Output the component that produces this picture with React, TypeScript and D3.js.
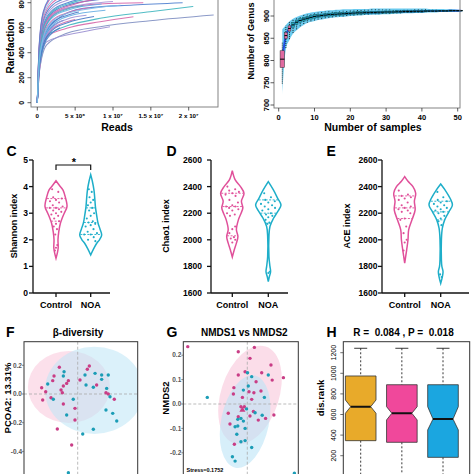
import React from 'react';
import * as d3 from 'd3';

const FONT = "'Liberation Sans', Arial, Helvetica, sans-serif";

// ---------------- Panel A: rarefaction ----------------
const rareTicksX = [0, 5, 10, 15, 20];
const rareTickLabelsX = ['0', '5 x 10⁶', '1 x 10⁷', '1.5 x 10⁷', '2 x 10⁷'];
const rareTicksY = [0, 200, 400, 600, 800];
// reads (millions), richness
const rareCurves: { c: string; p: number[][] }[] = [
  { c: '#7f8fc2', p: [[0, 0], [0.3, 262], [1.24, 462], [3.9, 555], [8.3, 608], [14.9, 656], [23.3, 702]] },
  { c: '#9a8fd2', p: [[0, 0], [0.3, 260], [1.25, 488], [6.1, 568], [9.6, 608]] },
  { c: '#d567a8', p: [[0, 0], [0.3, 280], [1.25, 528], [3.9, 595], [8.3, 648], [12.7, 688]] },
  { c: '#3fb6bf', p: [[0, 0], [0.3, 300], [1.7, 555], [8.3, 675], [14.9, 728], [20.6, 770]] },
  { c: '#4f80cf', p: [[0, 0], [0.3, 330], [1, 540], [2.5, 660], [6.1, 755], [12.7, 782], [19.2, 800]] },
  { c: '#d462a8', p: [[0, 0], [0.3, 380], [1, 600], [2.5, 720], [5, 770], [8.3, 790], [14, 800]] },
  { c: '#4a78c8', p: [[0, 0], [0.25, 330], [0.8, 520], [2, 640], [4, 700], [5.5, 725]] },
  { c: '#d466aa', p: [[0, 0], [0.25, 340], [0.8, 540], [2, 660], [4, 720], [7, 760]] },
  { c: '#6aaee4', p: [[0, 0], [0.25, 360], [0.8, 560], [2, 680], [4, 740], [8.5, 790]] },
  { c: '#a893d8', p: [[0, 0], [0.25, 350], [0.8, 570], [2, 700], [4, 760], [10, 810]] },
  { c: '#4d7dcc', p: [[0, 0], [0.25, 380], [0.8, 600], [2, 720], [4, 780], [9, 830]] },
  { c: '#d061a6', p: [[0, 0], [0.25, 370], [0.8, 590], [2, 710], [5, 790], [11, 850]] },
  { c: '#4f7fd2', p: [[0, 0], [0.25, 400], [0.8, 620], [2, 740], [4, 800], [7, 840]] },
  { c: '#46b3c4', p: [[0, 0], [0.25, 390], [0.8, 610], [2, 730], [4, 790], [12, 870]] },
  { c: '#a38fd4', p: [[0, 0], [0.25, 410], [0.8, 640], [2, 760], [4, 820], [8, 870]] },
  { c: '#4a7ccb', p: [[0, 0], [0.25, 420], [0.8, 660], [2, 780], [4, 840], [6, 870]] },
  { c: '#d868ab', p: [[0, 0], [0.25, 430], [0.8, 680], [2, 800], [4, 860], [9, 910]] },
  { c: '#8cc4ea', p: [[0, 0], [0.25, 440], [0.8, 700], [2, 820], [4, 880], [12, 950]] },
  { c: '#4f82d0', p: [[0, 0], [0.25, 320], [0.8, 500], [2, 610], [3.5, 660]] },
  { c: '#cf6aa8', p: [[0, 0], [0.25, 300], [0.8, 480], [2, 590], [4, 650], [5, 665]] },
  { c: '#9d92d6', p: [[0, 0], [0.25, 310], [0.8, 490], [2, 600], [4, 670], [6.5, 700]] },
  { c: '#4978c6', p: [[0, 0], [0.25, 290], [0.8, 470], [2, 580], [4, 640], [7.5, 690]] },
  { c: '#67aee2', p: [[0, 0], [0.25, 300], [0.8, 500], [2, 620], [4, 690], [9, 740]] },
  { c: '#4c7ccb', p: [[0, 0], [0.25, 280], [0.8, 450], [2, 560], [3, 600]] },
  { c: '#d35fa6', p: [[0, 0], [0.25, 450], [0.8, 720], [2, 850], [4, 910], [7, 950]] },
  { c: '#5584d2', p: [[0, 0], [0.25, 460], [0.8, 730], [2, 860], [5, 930], [10, 980]] },
  { c: '#43b1c2', p: [[0, 0], [0.25, 350], [0.8, 560], [2, 690], [4, 750], [6, 775]] },
  { c: '#7fbbe8', p: [[0, 0], [0.25, 320], [0.8, 520], [2, 650], [4, 715], [11, 780]] },
];

// ---------------- Panel B: genus accumulation ----------------
const accTicksX = [0, 10, 20, 30, 40, 50];
const accTicksY = [700, 750, 800, 850, 900];
const accMed = [803, 856, 872, 880, 886, 890, 893, 895, 897, 899, 900, 901, 902, 903, 903.5, 904, 904.5, 905, 905.5, 906, 906.5, 907, 907, 907.5, 907.5, 908, 908, 908.5, 908.5, 909, 909, 909, 909.5, 909.5, 910, 910, 910, 910.5, 910.5, 910.5, 911, 911, 911, 911, 911.5, 911.5, 911.5, 912, 912, 912, 912];
const accHalfBox = [18, 6, 5, 4.5, 4, 3.5, 3.5, 3, 3, 3, 3, 2.5, 2.5, 2.5, 2.5, 2.5, 2, 2, 2, 2, 2, 2, 2, 2, 1.5, 1.5, 1.5, 1.5, 1.5, 1.5, 1.5, 1.5, 1.5, 1, 1, 1, 1, 1, 1, 1, 1, 0.5, 0.5, 0.5, 0.5, 0.5, 0.5, 0.5, 0, 0, 0];
const accLo = [748, 828, 848, 862, 870, 877, 882, 885, 888, 890, 892, 893, 895, 896, 897, 898, 899, 899, 900, 901, 901, 902, 902, 903, 903, 904, 904, 904, 905, 905, 905, 906, 906, 906, 907, 907, 907, 908, 908, 908, 909, 909, 909, 909, 910, 910, 910, 911, 911, 911, 912];
const accHi = [840, 878, 886, 892, 896, 899, 902, 904, 906, 907, 908, 909, 910, 911, 911, 912, 912, 913, 913, 913, 914, 914, 914, 914, 914, 915, 915, 915, 915, 915, 915, 915, 915, 915, 915, 915, 915, 915, 915, 915, 915, 914, 914, 914, 914, 914, 913, 913, 913, 912, 912];
const accBandLo = [722, 825, 846, 860, 868, 875, 880, 884, 887, 889, 891, 892, 894, 895, 896, 897, 898, 898, 899, 900, 900, 901, 901, 902, 902, 903, 903, 903, 904, 904, 904, 905, 905, 905, 906, 906, 906, 907, 907, 907, 908, 908, 908, 908, 909, 909, 909, 910, 910, 910, 911];
const accBandHi = [870, 880, 888, 894, 898, 901, 904, 906, 908, 909, 910, 911, 912, 913, 913, 914, 914, 915, 915, 915, 916, 916, 916, 916, 916, 917, 917, 917, 917, 917, 917, 917, 917, 917, 917, 917, 917, 917, 917, 917, 917, 916, 916, 916, 916, 916, 915, 915, 915, 914, 913];

// ---------------- Panels C, D, E: violins ----------------
const groups = ['Control', 'NOA'];
const shannonTicks = [0, 1, 2, 3, 4, 5];
const chaoTicks = [1600, 1800, 2000, 2200, 2400, 2600];
const aceTicks = [1600, 1800, 2000, 2200, 2400, 2600];

const shannonCtrlDens = [[1.3, 0], [1.5, 0.12], [1.7, 0.2], [2.0, 0.18], [2.3, 0.25], [2.62, 0.4], [2.8, 0.55], [3.0, 0.75], [3.25, 1.0], [3.6, 0.85], [3.87, 0.64], [4.05, 0.3], [4.22, 0]];
const shannonNoaDens = [[1.43, 0], [1.65, 0.25], [1.87, 0.55], [2.0, 0.8], [2.18, 1.0], [2.4, 0.85], [2.62, 0.67], [2.9, 0.55], [3.24, 0.43], [3.5, 0.38], [3.86, 0.3], [4.2, 0.15], [4.45, 0]];
const shannonCtrlQ = [2.7, 3.2, 3.55];
const shannonNoaQ = [2.2, 2.65, 3.2];
const shannonCtrlPts = [3.9, 3.8, 3.6, 3.55, 3.5, 3.45, 3.4, 3.3, 3.25, 3.2, 3.2, 3.15, 3.1, 3.05, 3.0, 2.95, 2.9, 2.8, 2.7, 2.6, 2.5, 2.4, 2.2, 1.8, 1.7, 1.6];
const shannonNoaPts = [3.9, 3.8, 3.6, 3.5, 3.4, 3.3, 3.2, 3.1, 3.0, 2.9, 2.8, 2.7, 2.65, 2.6, 2.55, 2.5, 2.4, 2.3, 2.25, 2.2, 2.2, 2.1, 2.0, 1.95];

const chaoCtrlDens = [[1870, 0], [1925, 0.17], [1975, 0.35], [2025, 0.48], [2075, 0.35], [2150, 0.52], [2200, 0.75], [2240, 0.9], [2290, 0.78], [2350, 1.0], [2400, 0.7], [2450, 0.25], [2520, 0]];
const chaoNoaDens = [[1685, 0], [1722, 0.08], [1760, 0.18], [1800, 0.13], [1875, 0.05], [2025, 0.05], [2100, 0.13], [2160, 0.4], [2212, 0.74], [2262, 1.0], [2312, 0.74], [2375, 0.4], [2437, 0]];
const chaoCtrlQ = [2030, 2250, 2350];
const chaoNoaQ = [2125, 2200, 2300];
const chaoCtrlPts = [2400, 2380, 2370, 2360, 2350, 2340, 2330, 2300, 2280, 2260, 2250, 2250, 2240, 2230, 2220, 2200, 2190, 2180, 2100, 2080, 2050, 2020, 2010, 2000, 1980];
const chaoNoaPts = [2350, 2320, 2300, 2290, 2280, 2270, 2260, 2250, 2240, 2230, 2220, 2200, 2190, 2180, 2170, 2150, 2130, 2120, 1760, 1750];

const aceCtrlDens = [[1825, 0], [1925, 0.18], [2000, 0.3], [2075, 0.36], [2150, 0.66], [2225, 0.95], [2290, 0.88], [2350, 1.0], [2400, 0.75], [2440, 0.3], [2475, 0]];
const aceNoaDens = [[1672, 0], [1722, 0.14], [1760, 0.2], [1800, 0.1], [1850, 0.06], [2000, 0.06], [2087, 0.14], [2150, 0.34], [2212, 0.71], [2262, 1.0], [2312, 0.8], [2375, 0.37], [2420, 0]];
const aceCtrlQ = [2160, 2240, 2330];
const aceNoaQ = [2150, 2210, 2290];
const aceCtrlPts = [2370, 2340, 2330, 2320, 2310, 2300, 2280, 2260, 2250, 2240, 2230, 2220, 2210, 2200, 2160, 2150, 2100, 2050, 2000, 1980, 1920];
const aceNoaPts = [2360, 2320, 2300, 2290, 2280, 2270, 2260, 2250, 2240, 2230, 2220, 2210, 2200, 2180, 2160, 2140, 2110, 1740, 1720];

// ---------------- Panel F: PCoA ----------------
const fTicksY = [0.2, 0.0, -0.2, -0.4];
const fCtrl = [[-0.128, 0.186], [-0.165, 0.125], [-0.174, 0.093], [-0.065, 0.093], [-0.1, 0.056], [-0.251, 0.044], [-0.223, 0.016], [-0.116, 0.028], [-0.107, 0.009], [-0.244, -0.042], [-0.186, -0.026], [-0.1, -0.07], [-0.019, -0.1], [0.016, 0.098], [0.067, 0.172], [0.081, 0.195], [0.132, 0.063], [0.197, 0.009], [0.213, 0.0], [0.255, -0.037], [-0.019, -0.181], [-0.142, -0.244], [-0.042, -0.355], [-0.077, 0.074]];
const fNoa = [[-0.095, 0.155], [-0.1, 0.125], [-0.209, 0.07], [-0.17, -0.037], [-0.031, -0.037], [-0.077, -0.146], [0.035, -0.279], [0.109, -0.246], [0.051, 0.132], [0.121, 0.144], [0.167, 0.132], [0.167, 0.102], [0.213, 0.132], [0.058, 0.063], [0.109, 0.047], [0.202, 0.039], [0.225, -0.019], [0.197, -0.111], [0.244, -0.135], [0.272, -0.188], [-0.065, -0.548]];
const fEllCtrl = { cx: -0.061, cy: 0.049, rx: 0.286, ry: 0.251 };
const fEllNoa = { cx: 0.116, cy: 0.026, rx: 0.344, ry: 0.304 };

// ---------------- Panel G: NMDS ----------------
const gTicksY = [0.2, 0.1, 0.0, -0.1, -0.2];
const gCtrl = [[-0.244, 0.235], [-0.037, 0.214], [0.029, 0.232], [0.011, 0.187], [0.097, 0.16], [0.059, 0.128], [0.148, 0.108], [-0.037, 0.119], [-0.009, 0.132], [0.036, 0.091], [0.102, 0.098], [-0.055, 0.067], [-0.057, 0.041], [0.007, 0.05], [0.027, 0.046], [0.056, 0.053], [0.018, 0.019], [-0.02, 0.027], [-0.026, -0.011], [-0.012, -0.011], [0.025, -0.031], [-0.037, -0.052], [0.011, -0.049], [-0.078, -0.038], [-0.071, -0.082], [0.045, -0.066], [0.075, -0.059], [0.109, -0.045], [-0.053, -0.165]];
const gNoa = [[-0.164, 0.027], [0.001, 0.128], [0.018, 0.112], [0.004, 0.074], [-0.016, 0.057], [0.086, 0.119], [0.07, 0.027], [-0.003, -0.02], [0.032, -0.036], [0.061, -0.046], [-0.039, -0.063], [-0.026, -0.059], [-0.016, -0.07], [-0.039, -0.09], [-0.05, -0.093], [-0.009, -0.1], [-0.043, -0.124], [-0.026, -0.155], [-0.009, -0.15], [0.018, -0.178], [-0.061, -0.216], [-0.05, -0.234], [0.193, -0.284]];
const gCentroidCtrl = [-0.02, -0.025];
const gEllCtrl = { cx: 0.011, cy: 0.037, rx: 0.119, ry: 0.209, rot: 18 };
const gEllNoa = { cx: -0.009, cy: -0.072, rx: 0.098, ry: 0.193, rot: 12 };
const gStress = 'Stress=0.1752';

// ---------------- Panel H: ANOSIM boxes ----------------
const hTicksY = [200, 400, 600, 800, 1000, 1200];
const hGroups = [1, 2, 3];
const hColors = ['#E8AA2A', '#F0489B', '#1BA6E0'];
const hQ1 = [346, 330, 184];
const hQ3 = [974, 889, 889];
const hMed = [676, 612, 556];
const hNotchLo = [612, 547, 450];
const hNotchHi = [741, 676, 676];
const hWhiskHi = [1243, 1243, 1243];
const hWhiskLo = [0, 0, 0];

const PINK = '#E0509A';
const CYAN = '#1EAEC9';
const PT_PINK = '#C93D86';
const PT_BLUE = '#1B9DB6';

function densAt(dens: number[][], v: number): number {
  for (let i = 0; i < dens.length - 1; i++) {
    const [a, da] = dens[i];
    const [b, db] = dens[i + 1];
    if (v >= a && v <= b) return da + ((v - a) / (b - a)) * (db - da);
  }
  return 0;
}

function Violin({ cx, y, dens, maxW, color, q, pts }: any) {
  const w = d3.scaleLinear().domain([0, 1]).range([0, maxW]);
  const area = d3
    .area<number[]>()
    .curve(d3.curveCatmullRom)
    .y((d) => y(d[0]))
    .x0((d) => cx - w(d[1]))
    .x1((d) => cx + w(d[1]));
  return (
    <g>
      <path d={area(dens) || ''} fill="#fff" stroke={color} strokeWidth={1.5} />
      {q.map((v: number, i: number) => {
        const hw = w(densAt(dens, v)) * 0.95;
        return <line key={i} x1={cx - hw} x2={cx + hw} y1={y(v)} y2={y(v)} stroke={color} strokeWidth={0.9} strokeDasharray="2,1.5" />;
      })}
      {pts.map((v: number, i: number) => {
        const hw = w(densAt(dens, v)) * 0.6;
        const off = (((i * 3) % 5) - 2) / 2;
        return <circle key={i} cx={cx + off * hw} cy={y(v)} r={1.05} fill={color} />;
      })}
    </g>
  );
}

function ViolinPanel({ axisX, xEnd, cats, ticks, domain, label, letter, letterX, labelX, tickLabelX, ctrl, noa, maxW, fmt }: any) {
  const y = d3.scaleLinear().domain(domain).range([293, 160]);
  const x = d3.scalePoint<string>().domain(groups).range(cats);
  return (
    <g>
      <text x={letterX} y={155.5} fontSize={14} fontWeight="bold">{letter}</text>
      <line x1={axisX} x2={axisX} y1={160} y2={293} stroke="#111" strokeWidth={1.3} />
      <line x1={axisX} x2={xEnd} y1={293} y2={293} stroke="#111" strokeWidth={1.3} />
      {ticks.map((t: number) => (
        <g key={t}>
          <line x1={axisX - 4} x2={axisX} y1={y(t)} y2={y(t)} stroke="#111" strokeWidth={1.3} />
          <text x={tickLabelX} y={y(t) + 3} fontSize={8.5} fontWeight="bold" textAnchor="end">{fmt(t)}</text>
        </g>
      ))}
      {groups.map((g) => (
        <g key={g}>
          <line x1={x(g)} x2={x(g)} y1={293} y2={297} stroke="#111" strokeWidth={1.3} />
          <text x={x(g)} y={308} fontSize={9} fontWeight="bold" textAnchor="middle">{g}</text>
        </g>
      ))}
      <text transform={`translate(${labelX},226) rotate(-90)`} fontSize={9} fontWeight="bold" textAnchor="middle">{label}</text>
      <Violin cx={x('Control')} y={y} dens={ctrl.dens} maxW={maxW[0]} color={PINK} q={ctrl.q} pts={ctrl.pts} />
      <Violin cx={x('NOA')} y={y} dens={noa.dens} maxW={maxW[1]} color={CYAN} q={noa.q} pts={noa.pts} />
    </g>
  );
}

function PanelA() {
  const xA = d3.scaleLinear().domain([0, 20]).range([37.3, 188.7]);
  const yA = d3.scaleLinear().domain([0, 800]).range([102.7, 2.7]);
  const line = d3.line<number[]>().x((d) => xA(d[0])).y((d) => yA(d[1])).curve(d3.curveMonotoneX);
  return (
    <g>
      <defs>
        <clipPath id="clipA"><rect x={31} y={-20} width={187} height={127} /></clipPath>
      </defs>
      <g clipPath="url(#clipA)">
        {rareCurves.map((c, i) => (
          <path key={i} d={line(c.p) || ''} fill="none" stroke={c.c} strokeWidth={1.1} opacity={0.9} />
        ))}
      </g>
      <rect x={31} y={-20} width={187} height={127} fill="none" stroke="#777" strokeWidth={0.9} />
      {rareTicksY.map((t) => (
        <g key={t}>
          <line x1={27.5} x2={31} y1={yA(t)} y2={yA(t)} stroke="#333" strokeWidth={0.8} />
          <text transform={`translate(23.5,${yA(t)}) rotate(-90)`} fontSize={7} fontWeight="bold" textAnchor="middle">{t}</text>
        </g>
      ))}
      {rareTicksX.map((t, i) => (
        <g key={t}>
          <line x1={xA(t)} x2={xA(t)} y1={107} y2={110.5} stroke="#333" strokeWidth={0.8} />
          <text x={xA(t)} y={118} fontSize={6.2} fontWeight="bold" textAnchor="middle">{rareTickLabelsX[i]}</text>
        </g>
      ))}
      <text x={117} y={131} fontSize={10.5} fontWeight="bold" textAnchor="middle">Reads</text>
      <text transform="translate(13.5,46) rotate(-90)" fontSize={10} fontWeight="bold" textAnchor="middle">Rarefaction</text>
    </g>
  );
}

function PanelB() {
  const xB = d3.scaleLinear().domain([0, 50]).range([278.7, 457.7]);
  const yB = d3.scaleLinear().domain([700, 900]).range([105, 16]);
  const ns = accMed.map((_, i) => i + 1);
  const band = d3
    .area<number>()
    .x((n) => xB(n))
    .y0((n) => yB(accBandLo[n - 1]))
    .y1((n) => yB(accBandHi[n - 1]))
    .curve(d3.curveMonotoneX);
  const medLine = d3.line<number>().x((n) => xB(n)).y((n) => yB(accMed[n - 1])).curve(d3.curveMonotoneX);
  return (
    <g>
      <path d={band(ns) || ''} fill="#45BDEA" opacity={0.8} />
      <path d={medLine(ns) || ''} fill="none" stroke="#1F4FE0" strokeWidth={2} />
      {ns.map((n, i) => {
        const bw = i === 0 ? 2.2 : 1.4;
        const q1 = accMed[i] - accHalfBox[i];
        const q3 = accMed[i] + accHalfBox[i];
        const fill = i < 3 ? '#E06AA0' : '#2AA8B8';
        return (
          <g key={n}>
            <line x1={xB(n)} x2={xB(n)} y1={yB(accLo[i])} y2={yB(accHi[i])} stroke="#111" strokeWidth={0.9} strokeDasharray="1,1" />
            <rect x={xB(n) - bw} y={yB(q3) - 0.4} width={bw * 2} height={Math.max(0.8, yB(q1) - yB(q3) + 0.8)} fill={fill} stroke={i < 3 ? '#333' : '#0d5f6a'} strokeWidth={0.5} />
            <line x1={xB(n) - bw} x2={xB(n) + bw} y1={yB(accMed[i])} y2={yB(accMed[i])} stroke="#000" strokeWidth={1} />
          </g>
        );
      })}
      <rect x={274} y={-20} width={186} height={128} fill="none" stroke="#777" strokeWidth={0.9} />
      {accTicksY.map((t) => (
        <g key={t}>
          <line x1={270.5} x2={274} y1={yB(t)} y2={yB(t)} stroke="#333" strokeWidth={0.8} />
          <text transform={`translate(269,${yB(t)}) rotate(-90)`} fontSize={7.5} fontWeight="bold" textAnchor="middle">{t}</text>
        </g>
      ))}
      {accTicksX.map((t) => (
        <g key={t}>
          <line x1={xB(t)} x2={xB(t)} y1={108} y2={111.5} stroke="#333" strokeWidth={0.8} />
          <text x={xB(t)} y={119.5} fontSize={7.5} fontWeight="bold" textAnchor="middle">{t}</text>
        </g>
      ))}
      <text x={373} y={131} fontSize={10.5} fontWeight="bold" textAnchor="middle">Number of samples</text>
      <text transform="translate(253.5,41) rotate(-90)" fontSize={9.2} fontWeight="bold" textAnchor="middle">Number of Genus</text>
    </g>
  );
}

function Scatter({ id, x0, x1, xZero, unit, yZero, points, ellipses, letter, letterX, title, titleX, yLabel, yLabelX, ticks, tickFmt, extra }: any) {
  const xs = d3.scaleLinear().domain([0, 0.1]).range([xZero, xZero + unit]);
  const ys = d3.scaleLinear().domain([0, 0.1]).range([yZero, yZero - unit]);
  return (
    <g>
      <defs>
        <clipPath id={id}><rect x={x0} y={341.7} width={x1 - x0} height={150} /></clipPath>
      </defs>
      <text x={letterX} y={337} fontSize={14} fontWeight="bold">{letter}</text>
      <text x={titleX} y={336} fontSize={10} fontWeight="bold" textAnchor="middle">{title}</text>
      <g clipPath={`url(#${id})`}>
        {ellipses.map((e: any, i: number) => (
          <ellipse key={i} cx={xs(e.cx)} cy={ys(e.cy)} rx={xs(e.cx + e.rx) - xs(e.cx)} ry={ys(e.cy) - ys(e.cy + e.ry)} fill={e.fill} opacity={e.op} transform={e.rot ? `rotate(${e.rot},${xs(e.cx)},${ys(e.cy)})` : undefined} />
        ))}
        <line x1={x0} x2={x1} y1={ys(0)} y2={ys(0)} stroke="#aaa" strokeWidth={0.8} strokeDasharray="3,2" />
        <line x1={xs(0)} x2={xs(0)} y1={341.7} y2={490} stroke="#aaa" strokeWidth={0.8} strokeDasharray="3,2" />
        {points.map((p: any, i: number) => (
          <circle key={i} cx={xs(p[0])} cy={ys(p[1])} r={1.7} fill={p[2]} />
        ))}
        {extra ? extra(xs, ys) : null}
      </g>
      <rect x={x0} y={341.7} width={x1 - x0} height={150} fill="none" stroke="#333" strokeWidth={1} />
      {ticks.map((t: number) => (
        <g key={t}>
          <line x1={x0 - 2} x2={x0} y1={ys(t)} y2={ys(t)} stroke="#555" strokeWidth={0.7} />
          <text x={x0 - 2} y={ys(t) + 2.2} fontSize={6.5} fontWeight="bold" fill="#555" textAnchor="end">{tickFmt(t)}</text>
        </g>
      ))}
      <text transform={`translate(${yLabelX},398) rotate(-90)`} fontSize={9.5} fontWeight="bold" textAnchor="middle">{yLabel}</text>
    </g>
  );
}

function PanelH() {
  const yH = d3.scaleLinear().domain([200, 1200]).range([455.7, 352.7]);
  const xH = d3.scaleLinear().domain([1, 3]).range([360.7, 443]);
  const hw = 15.3;
  const nw = 10;
  return (
    <g>
      <text x={326.5} y={337} fontSize={14} fontWeight="bold">H</text>
      <text x={403.5} y={336} fontSize={10} fontWeight="bold" textAnchor="middle" style={{ whiteSpace: 'pre' }}>{'R =  0.084 , P =  0.018'}</text>
      <defs>
        <clipPath id="clipH"><rect x={343.3} y={341.7} width={126.4} height={150} /></clipPath>
      </defs>
      <g clipPath="url(#clipH)">
        {hGroups.map((g, i) => {
          const cx = xH(g);
          const d = [
            [cx - hw, yH(hQ3[i])], [cx + hw, yH(hQ3[i])], [cx + hw, yH(hNotchHi[i])], [cx + nw, yH(hMed[i])],
            [cx + hw, yH(hNotchLo[i])], [cx + hw, yH(hQ1[i])], [cx - hw, yH(hQ1[i])], [cx - hw, yH(hNotchLo[i])],
            [cx - nw, yH(hMed[i])], [cx - hw, yH(hNotchHi[i])],
          ];
          return (
            <g key={g}>
              <line x1={cx} x2={cx} y1={yH(hWhiskHi[i])} y2={yH(hQ3[i])} stroke="#222" strokeWidth={0.9} strokeDasharray="2,2" />
              <line x1={cx} x2={cx} y1={yH(hQ1[i])} y2={yH(hWhiskLo[i])} stroke="#222" strokeWidth={0.9} strokeDasharray="2,2" />
              <line x1={cx - 6.5} x2={cx + 6.5} y1={yH(hWhiskHi[i])} y2={yH(hWhiskHi[i])} stroke="#222" strokeWidth={0.9} />
              <path d={'M' + d.map((p) => p.join(',')).join('L') + 'Z'} fill={hColors[i]} stroke="#333" strokeWidth={0.8} />
              <line x1={cx - nw} x2={cx + nw} y1={yH(hMed[i])} y2={yH(hMed[i])} stroke="#111" strokeWidth={2} />
            </g>
          );
        })}
      </g>
      <rect x={343.3} y={341.7} width={126.4} height={150} fill="none" stroke="#333" strokeWidth={1} />
      {hTicksY.map((t) => (
        <g key={t}>
          <line x1={340.3} x2={343.3} y1={yH(t)} y2={yH(t)} stroke="#333" strokeWidth={0.7} />
          <text transform={`translate(335.5,${yH(t)}) rotate(-90)`} fontSize={7} textAnchor="middle">{t}</text>
        </g>
      ))}
      <text transform="translate(324,398) rotate(-90)" fontSize={9.5} fontWeight="bold" textAnchor="middle">dis.rank</text>
    </g>
  );
}

export default function App() {
  const fPoints = [...fCtrl.map((p) => [p[0], p[1], PT_PINK]), ...fNoa.map((p) => [p[0], p[1], PT_BLUE])];
  const gPoints = [...gCtrl.map((p) => [p[0], p[1], PT_PINK]), ...gNoa.map((p) => [p[0], p[1], PT_BLUE])];
  const fmt1 = (t: number) => t.toFixed(1);
  return (
    <svg width={474} height={474} style={{ position: 'absolute', left: 0, top: 0, background: '#fff' }} fontFamily={FONT}>
      <rect x={0} y={0} width={474} height={474} fill="#fff" />
      <PanelA />
      <PanelB />
      <ViolinPanel axisX={33} xEnd={110} cats={[56, 90.7]} ticks={shannonTicks} domain={[0, 5]} label="Shannon index" letter="C" letterX={6.5} labelX={16.5} tickLabelX={28} maxW={[11, 11]} fmt={(t: number) => String(t)}
        ctrl={{ dens: shannonCtrlDens, q: shannonCtrlQ, pts: shannonCtrlPts }} noa={{ dens: shannonNoaDens, q: shannonNoaQ, pts: shannonNoaPts }} />
      <g>
        <path d="M56,170 L56,165 L90.7,165 L90.7,170" fill="none" stroke="#111" strokeWidth={1.2} />
        <text x={74} y={166} fontSize={11} fontWeight="bold" textAnchor="middle">*</text>
      </g>
      <ViolinPanel axisX={211} xEnd={288} cats={[232.3, 268.3]} ticks={chaoTicks} domain={[1600, 2600]} label="Chao1 index" letter="D" letterX={166.5} labelX={169} tickLabelX={202} maxW={[11.7, 12.7]} fmt={(t: number) => String(t)}
        ctrl={{ dens: chaoCtrlDens, q: chaoCtrlQ, pts: chaoCtrlPts }} noa={{ dens: chaoNoaDens, q: chaoNoaQ, pts: chaoNoaPts }} />
      <ViolinPanel axisX={382} xEnd={469} cats={[404.7, 440.7]} ticks={aceTicks} domain={[1600, 2600]} label="ACE index" letter="E" letterX={326.5} labelX={350} tickLabelX={377.5} maxW={[11, 11.7]} fmt={(t: number) => String(t)}
        ctrl={{ dens: aceCtrlDens, q: aceCtrlQ, pts: aceCtrlPts }} noa={{ dens: aceNoaDens, q: aceNoaQ, pts: aceNoaPts }} />
      <Scatter id="clipF" x0={24} x1={137.7} xZero={77.7} unit={14.35} yZero={394} points={fPoints}
        ellipses={[{ ...fEllCtrl, fill: '#F9C6DB', op: 0.55 }, { ...fEllNoa, fill: '#BDE5F6', op: 0.55 }]}
        letter="F" letterX={6} title="β-diversity" titleX={78} yLabel="PCOA2: 13.31%" yLabelX={10.5} ticks={fTicksY} tickFmt={fmt1} />
      <Scatter id="clipG" x0={183.3} x1={298.3} xZero={247.3} unit={24.4} yZero={404} points={gPoints}
        ellipses={[{ ...gEllCtrl, fill: '#F9C6DB', op: 0.6 }, { ...gEllNoa, fill: '#BDE5F6', op: 0.6 }]}
        letter="G" letterX={166.5} title="NMDS1 vs NMDS2" titleX={244.3} yLabel="NMDS2" yLabelX={169} ticks={gTicksY} tickFmt={fmt1}
        extra={(xs: any, ys: any) => (
          <g>
            <path d={d3.symbol().type(d3.symbolTriangle).size(16)() || ''} transform={`translate(${xs(gCentroidCtrl[0])},${ys(gCentroidCtrl[1])})`} fill={PT_PINK} />
            <text x={186.5} y={472} fontSize={5.5} fontWeight="bold">{gStress}</text>
          </g>
        )} />
      <PanelH />
    </svg>
  );
}
